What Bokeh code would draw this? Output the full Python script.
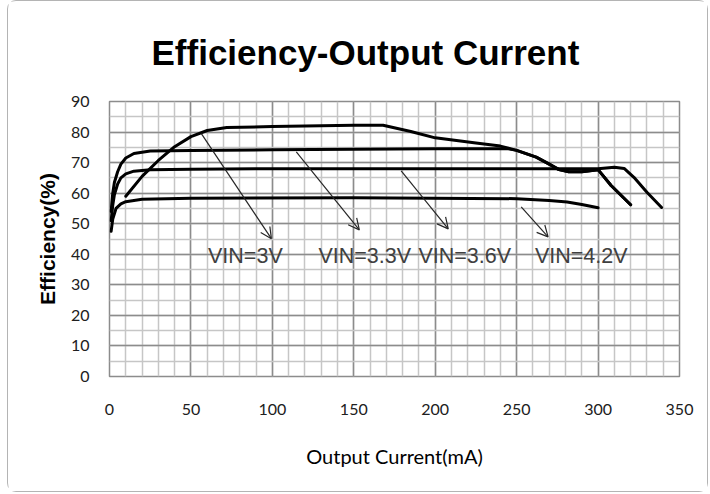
from bokeh.plotting import figure
from bokeh.models import (Range1d, SingleIntervalTicker, Label, Arrow, OpenHead,
                          ColumnDataSource)
from bokeh.embed import file_html
from bokeh.resources import INLINE

# ---- data ----
x_3v0 = [10, 20, 30, 40, 50, 60, 72, 100, 150, 168, 185, 200, 225, 240, 250, 262, 270, 276, 282, 290, 300, 308, 320]
y_3v0 = [59, 65.5, 70.7, 75.2, 78.5, 80.5, 81.5, 81.8, 82.2, 82.2, 80.2, 78.1, 76.4, 75.4, 74.0, 71.8, 69.5, 67.7, 67.0, 67.0, 67.7, 62.5, 56.2]

x_3v3 = [1, 2, 3, 5, 7, 10, 15, 25, 50, 100, 150, 200, 245, 250, 262, 270, 276, 282, 290, 300, 308, 320]
y_3v3 = [54, 60, 63.5, 67, 69.5, 71.5, 73, 73.8, 74, 74.2, 74.4, 74.5, 74.5, 74.0, 71.8, 69.5, 67.7, 67.0, 67.0, 67.7, 62.5, 56.2]

x_3v6 = [1, 2, 3, 5, 7, 10, 15, 25, 50, 100, 200, 300, 310, 316, 322, 330, 339]
y_3v6 = [51, 56, 59.5, 63, 65, 66.3, 67.2, 67.7, 67.8, 68, 68, 68, 68.5, 68.1, 65.2, 60.3, 55.3]

x_4v2 = [1, 2, 4, 7, 10, 20, 50, 150, 250, 270, 281, 290, 300]
y_4v2 = [47.5, 51.5, 55, 56.5, 57.2, 58, 58.3, 58.5, 58.2, 57.6, 57.1, 56.3, 55.2]

series = [(x_3v0, y_3v0), (x_3v3, y_3v3), (x_3v6, y_3v6), (x_4v2, y_4v2)]

labels = ["VIN=3V", "VIN=3.3V", "VIN=3.6V", "VIN=4.2V"]
label_x = [60.5, 128.3, 189.7, 261.2]
label_y = [39.3, 39.3, 39.3, 39.3]

arrow_x0 = [56.4, 114.7, 179.1, 252.8]
arrow_y0 = [79.5, 73.5, 67.3, 55.5]
arrow_x1 = [99.4, 153.4, 208.0, 269.3]
arrow_y1 = [45.1, 48.0, 48.3, 45.7]

title_text = "Efficiency-Output Current"
x_title = "Output Current(mA)"
y_title = "Efficiency(%)"

# ---- figure ----
p = figure(width=701, height=492, output_backend="svg", toolbar_location=None,
           x_range=Range1d(0, 350), y_range=Range1d(0, 90),
           min_border_left=101, min_border_right=30, min_border_top=100, min_border_bottom=117)
p.background_fill_color = "white"
p.border_fill_color = "white"
p.outline_line_color = "#8c8c8c"
p.outline_line_width = 1.5
p.styles = {"border": "1px solid #b4b4b4", "border-radius": "9px", "box-sizing": "border-box",
            "margin-left": "7px", "margin-top": "0px"}

p.title.text = title_text
p.title.text_font = "Liberation Sans"
p.title.text_font_style = "bold"
p.title.text_font_size = "35px"
p.title.text_color = "black"
p.title.align = "left"
p.title.offset = 42
p.title.standoff = 59

p.xaxis.ticker = SingleIntervalTicker(interval=50, num_minor_ticks=5)
p.yaxis.ticker = SingleIntervalTicker(interval=10, num_minor_ticks=2)
for ax in (p.xaxis, p.yaxis):
    ax.axis_line_color = None
    ax.major_tick_line_color = None
    ax.minor_tick_line_color = None
    ax.major_label_text_font = "Lato"
    ax.major_label_text_font_size = "16px"
    ax.major_label_text_color = "#202020"
p.xaxis.major_label_standoff = 21
p.yaxis.major_label_standoff = 14

p.xaxis.axis_label = x_title
p.xaxis.axis_label_text_font = "Lato"
p.xaxis.axis_label_text_font_style = "normal"
p.xaxis.axis_label_text_font_size = "20px"
p.xaxis.axis_label_text_color = "#000000"
p.xaxis.axis_label_standoff = 26

p.yaxis.axis_label = y_title
p.yaxis.axis_label_text_font = "Liberation Sans"
p.yaxis.axis_label_text_font_style = "bold"
p.yaxis.axis_label_text_font_size = "21px"
p.yaxis.axis_label_text_color = "black"
p.yaxis.axis_label_standoff = 9

for g in (p.xgrid, p.ygrid):
    g.grid_line_color = "#8c8c8c"
    g.grid_line_width = 1.5
    g.minor_grid_line_color = "#c6c6c6"
    g.minor_grid_line_width = 1.5
    g.level = "underlay"

for xs, ys in series:
    p.line(xs, ys, line_color="black", line_width=3, line_join="round", line_cap="round")

src = ColumnDataSource(dict(x0=arrow_x0, y0=arrow_y0, x1=arrow_x1, y1=arrow_y1))
p.add_layout(Arrow(source=src, x_start="x0", y_start="y0", x_end="x1", y_end="y1",
                   line_color="#262626", line_width=1.2,
                   end=OpenHead(size=11, line_color="#262626", line_width=1.2)))

for t, lx, ly in zip(labels, label_x, label_y):
    p.add_layout(Label(x=lx, y=ly, text=t, text_font="Liberation Sans",
                       text_font_size="21.5px", text_color="#404040",
                       text_baseline="middle", text_align="left"))

open("out.html", "w").write(file_html(p, INLINE))
